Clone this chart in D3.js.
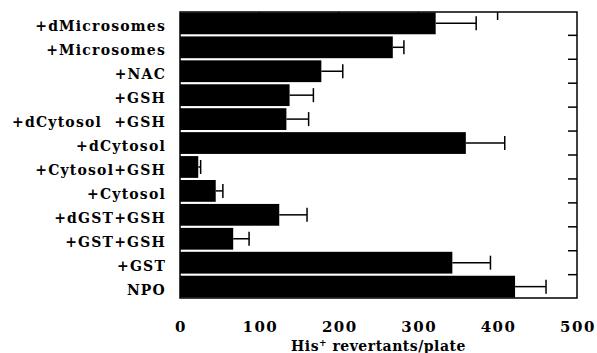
<!DOCTYPE html>
<html>
<head>
<meta charset="utf-8">
<script src="https://cdn.jsdelivr.net/npm/d3@7"></script>
<style>
  body { margin: 0; background: #fff; }
  text { font-family: "DejaVu Serif", "Liberation Serif", serif; font-weight: bold; fill: #000; }
</style>
</head>
<body>
<script>
// categories, top to bottom
let categories = ["+dMicrosomes", "+Microsomes", "+NAC", "+GSH", "+dCytosol  +GSH", "+dCytosol",
                  "+Cytosol+GSH", "+Cytosol", "+dGST+GSH", "+GST+GSH", "+GST", "NPO"];
// mean revertants and upper error bar end
let means = [322, 268, 178, 138, 134, 360, 23, 45, 125, 67, 343, 422];
let errTop = [373, 282, 205, 168, 162, 409, 26, 54, 160, 87, 391, 461];
let xTicks = [0, 100, 200, 300, 400, 500];

let margin = {top: 12, right: 20, bottom: 55, left: 180},
    width = 577 - margin.left,
    height = 298 - margin.top;

let svg = d3.select("body").append("svg")
    .attr("width", 597)
    .attr("height", 353);
let g = svg.append("g")
    .attr("transform", "translate(" + margin.left + "," + margin.top + ")");

// scales
let x = d3.scaleLinear().domain([0, 500]).range([0, width]);
let y = d3.scaleBand().domain(categories).range([0, height]).paddingInner(0.09).paddingOuter(0.02);

// right side ticks between categories
let bounds = d3.range(1, categories.length).map(i => y(categories[i]) - y.step() * y.paddingInner() / 2);
g.selectAll(".rtick")
    .data(bounds)
    .join("line")
    .attr("x1", width - 9).attr("x2", width)
    .attr("y1", d => d).attr("y2", d => d)
    .attr("stroke", "#000").attr("stroke-width", 1.5);

// top ticks
g.selectAll(".ttick")
    .data(xTicks.slice(1, -1))
    .join("line")
    .attr("x1", d => x(d)).attr("x2", d => x(d))
    .attr("y1", 0).attr("y2", 8)
    .attr("stroke", "#000").attr("stroke-width", 1.5);

// bars
g.selectAll(".bar")
    .data(categories)
    .join("rect")
    .attr("x", 0)
    .attr("y", d => y(d))
    .attr("width", (d, i) => x(means[i]))
    .attr("height", y.bandwidth())
    .attr("fill", "#000");

// error bars (one-sided)
let eb = g.selectAll(".err")
    .data(categories)
    .join("g")
    .attr("transform", d => "translate(0," + (y(d) + y.bandwidth() / 2) + ")");
eb.append("line")
    .attr("x1", (d, i) => x(means[i])).attr("x2", (d, i) => x(errTop[i]))
    .attr("y1", 0).attr("y2", 0)
    .attr("stroke", "#000").attr("stroke-width", 1.5);
eb.append("line")
    .attr("x1", (d, i) => x(errTop[i])).attr("x2", (d, i) => x(errTop[i]))
    .attr("y1", -7).attr("y2", 7)
    .attr("stroke", "#000").attr("stroke-width", 1.5);

// frame
g.append("rect")
    .attr("width", width).attr("height", height)
    .attr("fill", "none").attr("stroke", "#000").attr("stroke-width", 1.5);

// category labels
g.selectAll(".lab")
    .data(categories)
    .join("text")
    .attr("x", -14)
    .attr("y", d => y(d) + y.bandwidth() / 2 + 8)
    .attr("text-anchor", "end")
    .style("white-space", "pre")
    .style("font-size", "14px")
    .style("letter-spacing", "1.2px")
    .text(d => d);

// bottom tick labels
g.selectAll(".xl")
    .data(xTicks)
    .join("text")
    .attr("x", d => x(d) + 1)
    .attr("y", height + 34)
    .attr("text-anchor", "middle")
    .style("font-size", "15px")
    .style("letter-spacing", "1.5px")
    .text(d => d);

// axis title
let t = g.append("text")
    .attr("x", width / 2)
    .attr("y", height + 53)
    .attr("text-anchor", "middle")
    .style("font-size", "14px")
    .style("letter-spacing", "0.5px");
t.append("tspan").text("His");
t.append("tspan").attr("dy", -5).style("font-size", "9px").text("+");
t.append("tspan").attr("dy", 5).text(" revertants/plate");
</script>
</body>
</html>
